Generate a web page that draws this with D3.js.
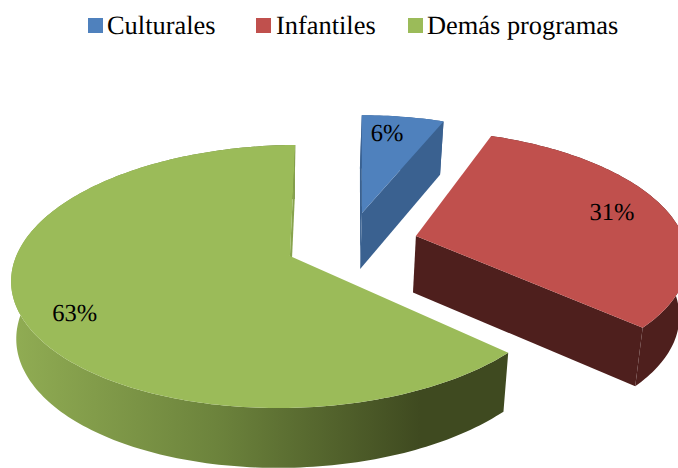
<!DOCTYPE html>
<html>
<head>
<meta charset="utf-8">
<script src="https://cdnjs.cloudflare.com/ajax/libs/d3/7.8.5/d3.min.js"></script>
<style>
html,body{margin:0;padding:0;background:#fff;overflow:hidden}
text{font-family:"Liberation Serif","Times New Roman",serif;fill:#000;text-rendering:geometricPrecision}
</style>
</head>
<body>
<svg id="chart" width="678" height="468"></svg>
<script>
// Audience share by programme type
const categories = ["Culturales", "Infantiles", "Demás programas"];
const shares = [6, 31, 63];
const topColors = ["#4F81BD", "#C0504D", "#9BBB59"];
const wallColors = ["#3A6190", "#4E1F1D", "url(#greenWall)"];
const cutColors = ["#3A6190", "#4E1F1D", "#87A34D"];
// Position of each exploded slice's apex on the pie plane, in radii
const sliceOffsets = [[0.272, -0.353], [0.473, -0.16], [0.007, 0]];
const sliceRadius = [0.97, 1, 1];
const sliceTurn = [1.0, 0, 0];
const labelNudge = [[-6, 0], [-2, -2], [-4, 13]];
const legendSwatchX = [88, 256, 408];
const legendTextX = [107, 276, 427];

const svg = d3.select("#chart");

// Camera model for the tilted pie
const cam = {cx: 288, cy: 256, d: 6.42, fx: 1757, fy: 824, shear: 0.08, depth: 57, vx: 270, shrink: 0.98};

function project(X, Y, z) {
  const k = cam.d - Y;
  const py = cam.fy * Y / k;
  const px = cam.cx + cam.fx * X / k - cam.shear * py;
  const sy = cam.cy + py;
  if (!z) return [px, sy];
  return [cam.vx + (px - cam.vx) * cam.shrink, sy + cam.depth * (1 + 0.05 * Y)];
}

const pie = d3.pie().sort(null)
  .startAngle(-0.8 * Math.PI / 180)
  .endAngle(359.2 * Math.PI / 180);
const arcs = pie(shares);
const line = d3.line();
const closed = pts => line(pts) + "Z";

const onRim = (o, a, r) => [o[0] + r * Math.sin(a), o[1] - r * Math.cos(a)];

const defs = svg.append("defs");
const grad = defs.append("linearGradient").attr("id", "greenWall")
  .attr("gradientUnits", "userSpaceOnUse")
  .attr("x1", 15).attr("x2", 420).attr("y1", 0).attr("y2", 0);
grad.append("stop").attr("offset", 0).attr("stop-color", "#90AC53");
grad.append("stop").attr("offset", 0.5).attr("stop-color", "#6C833C");
grad.append("stop").attr("offset", 1).attr("stop-color", "#3F4A20");

const plot = svg.append("g");

arcs.forEach((d, i) => {
  const o = sliceOffsets[i];
  const turn = sliceTurn[i] * Math.PI / 180;
  const steps = Math.max(8, Math.ceil((d.endAngle - d.startAngle) / 0.02));
  const angles = d3.range(steps + 1).map(t => turn + d.startAngle + (d.endAngle - d.startAngle) * t / steps);
  const rim = angles.map(a => onRim(o, a, sliceRadius[i]));
  const g = plot.append("g");

  const wall = (pts) => pts.map(p => project(p[0], p[1], 0))
    .concat(pts.slice().reverse().map(p => project(p[0], p[1], 1)));

  const apex = project(o[0], o[1], 0);
  const first = project(rim[0][0], rim[0][1], 0);
  const last = project(rim[rim.length - 1][0], rim[rim.length - 1][1], 0);

  // Outer wall, the cut faces turned toward the viewer, then the top surface
  g.append("path").attr("d", closed(wall(rim))).attr("fill", wallColors[i]);
  if (first[0] < apex[0]) g.append("path").attr("d", closed(wall([o, rim[0]]))).attr("fill", cutColors[i]);
  if (last[0] > apex[0]) g.append("path").attr("d", closed(wall([o, rim[rim.length - 1]]))).attr("fill", cutColors[i]);
  g.append("path")
    .attr("d", closed([apex].concat(rim.map(p => project(p[0], p[1], 0)))))
    .attr("fill", topColors[i]);
});

// Percentage labels sit at a fixed fraction of the radius along each slice's middle
const labelLayer = svg.append("g");
arcs.forEach((d, i) => {
  const mid = (d.startAngle + d.endAngle) / 2;
  const p = onRim(sliceOffsets[i], mid, 0.79);
  const s = project(p[0], p[1], 0);
  labelLayer.append("text")
    .attr("x", s[0] + labelNudge[i][0]).attr("y", s[1] + labelNudge[i][1])
    .attr("text-anchor", "middle")
    .attr("dy", "0.33em")
    .attr("font-size", 24.5)
    .text(shares[i] + "%");
});

// Legend across the top
const legend = svg.append("g");
categories.forEach((c, i) => {
  legend.append("rect")
    .attr("x", legendSwatchX[i]).attr("y", 18)
    .attr("width", 15).attr("height", 15)
    .attr("fill", topColors[i]);
  legend.append("text")
    .attr("x", legendTextX[i]).attr("y", 34)
    .attr("font-size", 26.4)
    .text(c);
});
</script>
</body>
</html>
